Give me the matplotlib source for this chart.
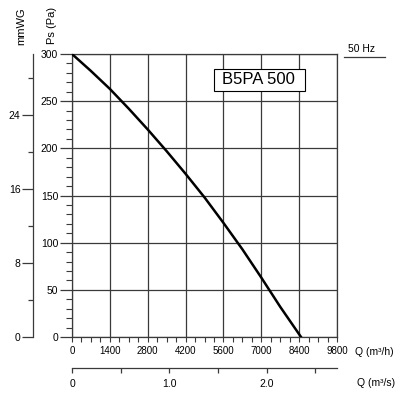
import numpy as np
import matplotlib
matplotlib.use("Agg")
from matplotlib import pyplot as plt
from matplotlib.ticker import MultipleLocator, FixedLocator
from matplotlib.patches import Rectangle

plt.rcParams['font.family'] = ['Liberation Sans', 'DejaVu Sans']

# fan curve
q_m3h = [0, 700, 1400, 2100, 2800, 3500, 4200, 4900, 5600, 6300, 7000, 7700, 8470]
ps_pa = [300, 282, 263, 242, 220, 197, 173, 148, 121, 93, 63, 32, 0]

x_ticks = [0, 1400, 2800, 4200, 5600, 7000, 8400, 9800]
mm_ticks = [0, 8, 16, 24]
q_s_ticks = [0, 1.0, 2.0]
q_s_labels = ["0", "1.0", "2.0"]
model = "B5PA 500"
freq = "50 Hz"

W, H = 400, 396
gc = '#3a3a3a'

fig = plt.figure(figsize=(W / 100, H / 100), dpi=100)
ax = fig.add_axes([72 / W, 1 - 337 / H, 265 / W, 283 / H])

ax.plot(q_m3h, ps_pa, color='black', lw=1.8, zorder=3)
ax.set_xlim(0, 9800)
ax.set_ylim(0, 300)

ax.xaxis.set_major_locator(FixedLocator(x_ticks))
ax.xaxis.set_minor_locator(MultipleLocator(350))
ax.yaxis.set_major_locator(MultipleLocator(50))
ax.yaxis.set_minor_locator(MultipleLocator(10))
ax.grid(True, which='major', color=gc, lw=0.9)
for s in ax.spines.values():
    s.set_color(gc)
    s.set_linewidth(0.9)

ax.tick_params(axis='y', which='major', direction='out', length=9, width=0.9,
               color=gc, pad=1, labelsize=7.5)
ax.tick_params(axis='y', which='minor', direction='out', length=4.3, width=0.8, color=gc)
ax.tick_params(axis='x', which='both', direction='out', length=3.6, width=0.8,
               color=gc, pad=3, labelsize=7)

# mmWG axis on the left
pa2mm = lambda p: np.asarray(p) / 9.80665
mm2pa = lambda m: np.asarray(m) * 9.80665
sy = ax.secondary_yaxis(-39 / 265, functions=(pa2mm, mm2pa))
sy.yaxis.set_major_locator(FixedLocator(mm_ticks))
sy.yaxis.set_minor_locator(FixedLocator([4, 12, 20, 28]))
sy.spines['left'].set_color(gc)
sy.spines['left'].set_linewidth(0.9)
sy.tick_params(which='major', direction='out', length=8, width=0.9, color=gc,
               pad=1, labelsize=7.5)
sy.tick_params(which='minor', direction='out', length=3.6, width=0.9, color=gc)

# m3/s axis at the bottom
sx = ax.secondary_xaxis(-31 / 283, functions=(lambda q: np.asarray(q) / 3600,
                                              lambda q: np.asarray(q) * 3600))
sx.xaxis.set_major_locator(FixedLocator(q_s_ticks))
sx.xaxis.set_minor_locator(FixedLocator([0.5, 1.5, 2.5]))
sx.set_xticklabels(q_s_labels)
sx.spines['bottom'].set_color(gc)
sx.spines['bottom'].set_linewidth(0.9)
sx.tick_params(which='both', direction='out', length=3.6, width=0.9, color=gc,
               pad=4, labelsize=7.5)

fig.text(21 / W, 1 - 26 / H, "mmWG", rotation=90, ha='center', va='center', fontsize=8)
fig.text(52 / W, 1 - 25 / H, "Ps (Pa)", rotation=90, ha='center', va='center', fontsize=8)
fig.text(355 / W, 1 - 352 / H, "Q (m³/h)", ha='left', va='center', fontsize=7.5)
fig.text(357 / W, 1 - 383 / H, "Q (m³/s)", ha='left', va='center', fontsize=7.5)

fig.text(348 / W, 1 - 49 / H, freq, ha='left', va='center', fontsize=7.5)
fig.add_artist(plt.Line2D([344 / W, 385 / W], [1 - 57 / H, 1 - 57 / H], color=gc, lw=0.9))

ax.add_patch(Rectangle((5250, 261), 3370, 23, fc='white', ec='black', lw=0.8, zorder=4))
ax.text(5540, 272.5, model, ha='left', va='center', fontsize=12, zorder=5)

fig.savefig("out.png", dpi=100)
